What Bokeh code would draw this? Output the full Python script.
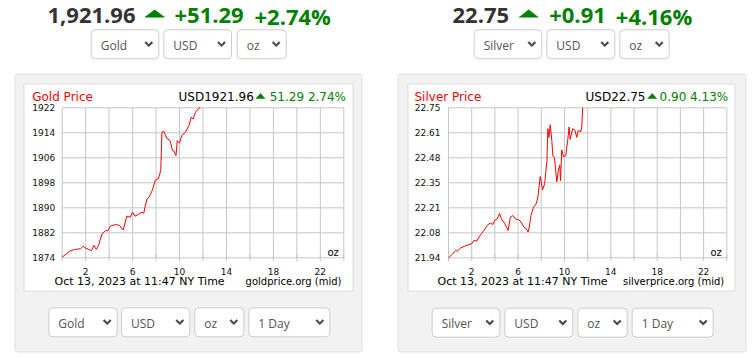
from bokeh.plotting import figure
from bokeh.models import Range1d, BoxAnnotation, PolyAnnotation
from bokeh.core.properties import value
from bokeh.embed import file_html
from bokeh.resources import INLINE

# ---------------- data ----------------
gold_hours = [0.0, 0.43, 0.71, 1.14, 1.56, 1.79, 2.0, 2.27, 2.5, 2.7, 2.9, 3.1, 3.4, 3.7, 3.9,
              4.1, 4.55, 4.9, 5.2, 5.3, 5.5, 5.8, 6.0, 6.2, 6.5, 6.8, 6.96, 7.05, 7.24, 7.4,
              7.67, 7.95, 8.2, 8.4, 8.5, 8.66, 8.8, 8.95, 9.2, 9.4, 9.5, 9.7, 9.8, 10.0, 10.2,
              10.5, 10.8, 11.0, 11.16, 11.36, 11.65, 11.78]
gold_prices = [1874.2, 1875.5, 1876.3, 1876.7, 1876.9, 1877.7, 1877.1, 1876.6, 1876.3, 1878.0,
               1876.7, 1878.0, 1881.7, 1882.7, 1882.7, 1884.1, 1884.7, 1884.3, 1882.9, 1884.3,
               1887.3, 1887.0, 1888.6, 1887.3, 1887.9, 1888.6, 1888.3, 1890.2, 1892.9, 1893.4,
               1895.5, 1899.0, 1899.3, 1902.0, 1914.2, 1914.5, 1913.2, 1912.1, 1911.5, 1908.3,
               1908.3, 1906.7, 1911.5, 1910.7, 1913.2, 1914.2, 1916.3, 1919.0, 1918.4, 1920.6,
               1921.9, 1922.0]

silver_hours = [0.0, 0.34, 0.63, 0.77, 1.06, 1.4, 1.77, 2.0, 2.2, 2.43, 2.63, 2.83, 3.06, 3.4,
                3.63, 3.83, 3.97, 4.2, 4.4, 4.57, 4.83, 5.14, 5.34, 5.54, 5.77, 6.06, 6.26, 6.49,
                6.71, 6.86, 6.97, 7.11, 7.34, 7.57, 7.71, 7.91, 8.11, 8.29, 8.49, 8.57, 8.66,
                8.77, 8.91, 9.0, 9.14, 9.34, 9.49, 9.6, 9.66, 9.77, 9.91, 10.11, 10.29, 10.4,
                10.49, 10.71, 10.91, 11.06, 11.2, 11.4, 11.49, 11.57]
silver_prices = [21.94, 21.96, 21.98, 21.976, 21.994, 22.003, 22.012, 22.016, 22.034, 22.03,
                 22.052, 22.07, 22.088, 22.12, 22.127, 22.12, 22.142, 22.15, 22.18, 22.15,
                 22.127, 22.088, 22.16, 22.168, 22.15, 22.145, 22.133, 22.106, 22.097, 22.079,
                 22.106, 22.168, 22.214, 22.232, 22.268, 22.379, 22.307, 22.34, 22.466, 22.637,
                 22.59, 22.658, 22.574, 22.49, 22.48, 22.35, 22.42, 22.44, 22.357, 22.523,
                 22.487, 22.49, 22.58, 22.646, 22.58, 22.637, 22.628, 22.59, 22.628, 22.62,
                 22.646, 22.75]

hour_range = (0, 24)
x_grid_hours = [0, 2, 4, 6, 8, 10, 12, 14, 16, 18, 20, 22, 24]
x_label_hours = [2, 6, 10, 14, 18, 22]
gold_range = (1874, 1922)
gold_yticks = [1874, 1882, 1890, 1898, 1906, 1914, 1922]
gold_ylabels = ["1874", "1882", "1890", "1898", "1906", "1914", "1922"]
silver_range = (21.94, 22.75)
silver_yticks = [21.94, 22.075, 22.21, 22.345, 22.48, 22.615, 22.75]
silver_ylabels = ["21.94", "22.08", "22.21", "22.35", "22.48", "22.61", "22.75"]

gold_header = ["1,921.96", "+51.29", "+2.74%"]
silver_header = ["22.75", "+0.91", "+4.16%"]
gold_title = ["Gold Price", "USD1921.96", "51.29 2.74%"]
silver_title = ["Silver Price", "USD22.75", "0.90 4.13%"]
timestamp = "Oct 13, 2023 at 11:47 NY Time"
gold_source = "goldprice.org (mid)"
silver_source = "silverprice.org (mid)"
unit_label = "oz"
gold_top_selects = ["Gold", "USD", "oz"]
gold_bottom_selects = ["Gold", "USD", "oz", "1 Day"]
silver_top_selects = ["Silver", "USD", "oz"]
silver_bottom_selects = ["Silver", "USD", "oz", "1 Day"]

GREEN = "#008000"
SANS = "DejaVu Sans"
PANEL_FILL = "#f2f2f2"
PANEL_LINE = "#e0e0e0"
INNER_LINE = "#dcdcdc"
GRID = "#c6c6c6"

W, H = 755, 358
p = figure(width=W, height=H, x_range=Range1d(0, W), y_range=Range1d(H, 0),
           x_axis_location=None, y_axis_location=None,
           output_backend="svg", toolbar_location=None, title=None,
           min_border=0, outline_line_color=None,
           border_fill_color="white", background_fill_color="white")
p.grid.visible = False


def box(l, r, t, b, fill, line, radius=0):
    p.add_layout(BoxAnnotation(left=l, right=r, top=t, bottom=b,
                               fill_color=fill, fill_alpha=1.0,
                               line_color=line, line_alpha=1.0, line_width=1,
                               border_radius=radius, level="image", editable=False))


def label(x, y, text, size, color, font=SANS, align="left", bold=False):
    # y is the visual middle of the text line
    p.text(x=[x], y=[y], text=[text], text_font=value(font), text_font_size=size,
           text_color=color, text_align=align, text_baseline="middle",
           text_font_style="bold" if bold else "normal")


def poly(xs, ys, color):
    p.add_layout(PolyAnnotation(xs=xs, ys=ys,
                                fill_color=color, fill_alpha=1.0, line_color=color,
                                line_alpha=1.0, line_width=0.5, editable=False))


def triangle(x0, x1, ytop, ybot, color):
    poly([x0, x1, (x0 + x1) / 2], [ybot, ybot, ytop], color)


def chevron(cx, cy):
    poly([cx - 4, cx - 2.8, cx, cx + 2.8, cx + 4, cx],
         [cy - 1.5, cy - 2.7, cy + 0.1, cy - 2.7, cy - 1.5, cy + 2.5], "#444444")


def selects(names, lefts, rights, top, bottom):
    for n, l, r in zip(names, lefts, rights):
        box(l, r, top, bottom, "white", "#cccccc", 4)
        cy = (top + bottom) / 2
        label(l + 9.5, cy + 1.2, n, "12px", "#555555", font="Open Sans")
        chevron(r - 10, cy)


def half(spec, hours, prices, yrange, yticks, ylabels):
    # panel backgrounds
    gx0, gx1 = spec["panel"]
    wx0, wx1 = spec["inner"]
    box(gx0, gx1, 73.5, 351.5, PANEL_FILL, PANEL_LINE, 3)
    box(wx0, wx1, 83.5, 290.5, "white", INNER_LINE, 0)

    # header
    h = spec["header_text"]
    hx = spec["header_x"]
    label(hx[0], 15.3, h[0], "22px", "#333333", font="Open Sans", bold=True)
    triangle(hx[1], hx[2], 9.3, 16.7, GREEN)
    label(hx[3], 15.3, h[1], "22px", GREEN, font="Open Sans", bold=True)
    label(hx[4], 15.3, h[2], "22px", GREEN, font="Open Sans", bold=True)
    selects(spec["top_sel"], spec["top_l"], spec["top_r"], 29.3, 58.3)

    # chart titles
    t = spec["title_text"]
    tx = spec["title_x"]
    label(tx[0], 96.3, t[0], "12px", "#ff0000")
    label(tx[1], 96.3, t[1], "12px", "#000000")
    triangle(tx[2], tx[3], 93.0, 98.0, GREEN)
    label(tx[4], 96.3, t[2], "12px", GREEN, align="right")

    # chart area mapped through a sub-coordinate system
    fl, fr = spec["frame"]
    sub = p.subplot(x_source=Range1d(*hour_range), y_source=Range1d(*yrange),
                    x_target=Range1d(fl, fr), y_target=Range1d(257.3, 107.3))
    ylo, yhi = yrange
    n_x = len(x_grid_hours)
    n_y = len(yticks)
    sub.segment(x0=x_grid_hours, y0=[ylo] * n_x, x1=x_grid_hours, y1=[yhi] * n_x,
                line_color=GRID, line_width=1)
    sub.segment(x0=[hour_range[0]] * n_y, y0=yticks, x1=[hour_range[1]] * n_y, y1=yticks,
                line_color=GRID, line_width=1)
    sub.scatter(x=x_grid_hours, y=[ylo] * n_x, marker="dash", angle=1.5708, size=7,
                line_color=GRID, line_width=1)
    sub.line(hours, prices, line_color="#ff0000", line_width=1)
    sub.text(x=x_label_hours, y=[ylo] * len(x_label_hours), text=[str(v) for v in x_label_hours],
             text_font=value(SANS), text_font_size="9px", text_color="#111111",
             text_align="center", text_baseline="middle", y_offset=13.3)
    sub.text(x=[hour_range[0]] * n_y, y=yticks, text=ylabels,
             text_font=value(SANS), text_font_size="9px", text_color="#111111",
             text_align="right", text_baseline="middle", x_offset=-spec["ystand"])
    sub.text(x=[hour_range[1]], y=[ylo], text=[unit_label],
             text_font=value(SANS), text_font_size="10px", text_color="#000000",
             text_align="right", text_baseline="middle", x_offset=-5, y_offset=-5.6)

    label(spec["stamp_x"], 280.8, timestamp, "11px", "#000000")
    label(spec["src_x"], 280.8, spec["src"], "10px", "#000000", align="right")
    selects(spec["bot_sel"], spec["bot_l"], spec["bot_r"], spec["bot_y"][0], spec["bot_y"][1])


gold_spec = dict(
    frame=(61.7, 343.3), ystand=7,
    panel=(14.5, 361.5), inner=(23.5, 352.5),
    header_text=gold_header, header_x=[47, 144.3, 164, 174, 254],
    top_sel=gold_top_selects, top_l=[90.7, 163.3, 236.7], top_r=[158.3, 231, 285.7],
    bot_sel=gold_bottom_selects, bot_l=[48.3, 121, 194.3, 248.3], bot_r=[116.7, 189.3, 243.3, 329.3],
    bot_y=(307.3, 336.3),
    title_text=gold_title, title_x=[31.7, 178, 255.5, 264.5, 345.5],
    stamp_x=54, src_x=341, src=gold_source,
)
silver_spec = dict(
    frame=(448, 726.3), ystand=8,
    panel=(397.5, 745.5), inner=(407.5, 734.5),
    header_text=silver_header, header_x=[452, 518.7, 537.7, 548.7, 615.3],
    top_sel=silver_top_selects, top_l=[473.7, 546.3, 619.3], top_r=[541.3, 614.3, 668.7],
    bot_sel=silver_bottom_selects, bot_l=[431.7, 504.3, 577.3, 631.7], bot_r=[499.3, 572.3, 626.7, 712.7],
    bot_y=(307.7, 336.7),
    title_text=silver_title, title_x=[414, 585, 647.2, 656.2, 727.7],
    stamp_x=437, src_x=723.7, src=silver_source,
)

half(gold_spec, gold_hours, gold_prices, gold_range, gold_yticks, gold_ylabels)
half(silver_spec, silver_hours, silver_prices, silver_range, silver_yticks, silver_ylabels)

open("out.html", "w").write(file_html(p, INLINE))
